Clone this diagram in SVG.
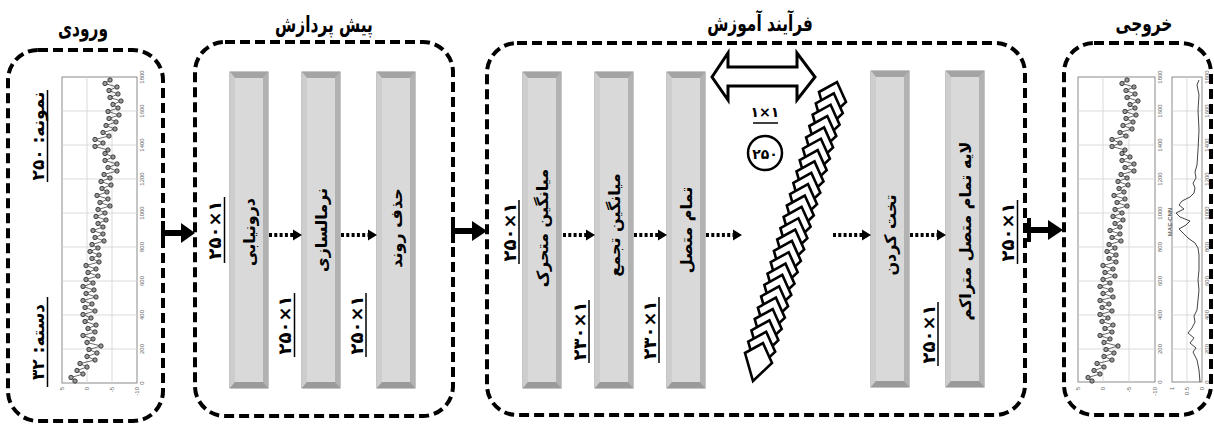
<svg xmlns="http://www.w3.org/2000/svg" xmlns:xlink="http://www.w3.org/1999/xlink" width="1214" height="425" viewBox="0 0 1214 425">
<style>
.panel{fill:none;stroke:#000;stroke-width:4;stroke-dasharray:10 5}
.t{font-family:"DejaVu Sans",sans-serif;font-weight:bold;fill:#000}
.title{font-size:22px}
.bt{font-size:16px}
.dim{font-size:18px;letter-spacing:0.5px}
.lab{font-size:17px}
.ul{stroke:#000;stroke-width:1.5}
.dot{stroke:#000;stroke-width:4;stroke-dasharray:3 2.3;fill:none}
.thick{stroke:#000;stroke-width:6;fill:none}
.grid{stroke:#d2d2d2;stroke-width:0.8}
.frame{fill:#fff;stroke:#8a8a8a;stroke-width:1}
.tick{font-family:"Liberation Sans",sans-serif;font-size:6px;fill:#666}
.series{fill:none;stroke:#444;stroke-width:0.8;marker-start:url(#pt);marker-mid:url(#pt);marker-end:url(#pt)}
</style>
<defs>
<marker id="pt" markerUnits="userSpaceOnUse" markerWidth="8" markerHeight="8" refX="4" refY="4" overflow="visible">
<circle cx="4" cy="4" r="2.2" fill="#999" stroke="#222" stroke-width="0.8"/>
</marker>
<g id="bar">
<rect x="0" y="0" width="38" height="316" fill="#bdbdbd" stroke="#8c8c8c" stroke-width="1"/>
<polygon points="0,0 38,0 33,6 5,6" fill="#a4a4a4"/>
<polygon points="0,0 5,6 5,310 0,316" fill="#cdcdcd"/>
<polygon points="38,0 38,316 33,310 33,6" fill="#b2b2b2"/>
<polygon points="0,316 38,316 33,310 5,310" fill="#9a9a9a"/>
<rect x="5" y="6" width="28" height="304" fill="#d9d9d9"/>
</g>
<polygon id="sq" points="-13,-7 5,-17 14,3 -5,21" fill="#fff" stroke="#000" stroke-width="2.6" stroke-linejoin="miter"/>
<polyline id="series" class="series" points="75,381 71,377.5 83,374 77,370.5 87,367 80,363.5 95,360 87,356.5 97,353 89,349.5 101,346 87,342.5 93,339 83,335.5 95,332 88,328.5 96,325 85,321.5 91,318 83,314.5 95,311 85,307.5 92,304 83,300.5 96,297 86,293.5 94,290 83,286.5 93,283 86,279.5 98,276 88,272.5 96,269 86,265.5 99,262 92,258.5 99,255 90,251.5 98,248 92,244.5 104,241 95,237.5 103,234 93,230.5 103,227 98,223.5 106,220 96,216.5 105,213 98,209.5 110,206 100,202.5 108,199 97,195.5 107,192 102,188.5 111,185 101,181.5 110,178 104,174.5 117,171 108,167.5 117,164 105,160.5 113,157 105,153.5 108,150 95,146.5 103,143 95,139.5 109,136 103,132.5 115,129 106,125.5 116,122 109,118.5 119,115 108,111.5 118,108 113,104.5 121,101 110,97.5 118,94 109,90.5 117,87 105,83.5 110,80"/>
</defs>

<!-- Panels -->
<g id="panel-input">
<rect class="panel" x="8" y="50" width="155" height="371" rx="30"/>
<text class="t title" transform="translate(83,36) scale(0.7,1)" text-anchor="middle">ورودی</text>
<g id="chart-input">
<rect class="frame" x="62" y="77" width="75" height="306"/>
<g class="grid">
<line x1="87" y1="77" x2="87" y2="383"/><line x1="112" y1="77" x2="112" y2="383"/>
<line x1="62" y1="349" x2="137" y2="349"/><line x1="62" y1="315" x2="137" y2="315"/><line x1="62" y1="281" x2="137" y2="281"/><line x1="62" y1="247" x2="137" y2="247"/><line x1="62" y1="213" x2="137" y2="213"/><line x1="62" y1="179" x2="137" y2="179"/><line x1="62" y1="145" x2="137" y2="145"/><line x1="62" y1="111" x2="137" y2="111"/>
</g>
<use xlink:href="#series"/>
<g class="tick" text-anchor="middle">
<text transform="translate(144,383) rotate(-90)">0</text>
<text transform="translate(144,349) rotate(-90)">200</text>
<text transform="translate(144,315) rotate(-90)">400</text>
<text transform="translate(144,281) rotate(-90)">600</text>
<text transform="translate(144,247) rotate(-90)">800</text>
<text transform="translate(144,213) rotate(-90)">1000</text>
<text transform="translate(144,179) rotate(-90)">1200</text>
<text transform="translate(144,145) rotate(-90)">1400</text>
<text transform="translate(144,111) rotate(-90)">1600</text>
<text transform="translate(144,77) rotate(-90)">1800</text>
</g>
<g class="tick" text-anchor="end">
<text transform="translate(64,387) rotate(-90)">5</text>
<text transform="translate(89,387) rotate(-90)">0</text>
<text transform="translate(114,387) rotate(-90)">-5</text>
<text transform="translate(139,387) rotate(-90)">-10</text>
</g>
</g>
<text class="t lab" transform="translate(44,136) rotate(-90)" text-anchor="middle">نمونه: ۲۵۰</text>
<line class="ul" x1="47.5" y1="90" x2="47.5" y2="182"/>
<text class="t lab" transform="translate(44,342) rotate(-90)" text-anchor="middle">دسته: ۳۲</text>
<line class="ul" x1="47.5" y1="297" x2="47.5" y2="387"/>
</g>

<g id="panel-preprocess">
<rect class="panel" x="195" y="42" width="258" height="374" rx="30"/>
<text class="t title" transform="translate(324,32) scale(0.7,1)" text-anchor="middle">پیش پردازش</text>
</g>
<g id="box-interp"><use xlink:href="#bar" x="230" y="72"/><text class="t bt" transform="translate(249,232) rotate(-90)" y="6" text-anchor="middle">درونیابی</text></g>
<g id="box-normalize"><use xlink:href="#bar" x="302" y="72"/><text class="t bt" transform="translate(321,230) rotate(-90)" y="6" text-anchor="middle">نرمالسازی</text></g>
<g id="box-detrend"><use xlink:href="#bar" x="377" y="72"/><text class="t bt" transform="translate(396,228) rotate(-90)" y="6" text-anchor="middle">حذف روند</text></g>

<g id="panel-training">
<rect class="panel" x="487" y="43" width="538" height="372" rx="30"/>
<text class="t title" transform="translate(760,31) scale(0.7,1)" text-anchor="middle">فرآیند آموزش</text>
</g>
<g id="box-movavg"><use xlink:href="#bar" x="523" y="72"/><text class="t bt" transform="translate(542,228) rotate(-90)" y="6" text-anchor="middle">میانگین متحرک</text></g>
<g id="box-pool"><use xlink:href="#bar" x="595" y="72"/><text class="t bt" transform="translate(614,225) rotate(-90)" y="6" text-anchor="middle">میانگین تجمع</text></g>
<g id="box-fc"><use xlink:href="#bar" x="667" y="72"/><text class="t bt" transform="translate(686,230) rotate(-90)" y="6" text-anchor="middle">تمام متصل</text></g>
<g id="box-flatten"><use xlink:href="#bar" x="871" y="71"/><text class="t bt" transform="translate(890,235) rotate(-90)" y="6" text-anchor="middle">تخت کردن</text></g>
<g id="box-dense"><use xlink:href="#bar" x="946" y="71"/><text class="t bt" transform="translate(965,231) rotate(-90)" y="6" text-anchor="middle">لایه تمام متصل متراکم</text></g>

<g id="feature-stack">
<use xlink:href="#sq" x="832.0" y="99.0"/>
<use xlink:href="#sq" x="828.8" y="110.3"/>
<use xlink:href="#sq" x="825.6" y="121.7"/>
<use xlink:href="#sq" x="822.3" y="133.0"/>
<use xlink:href="#sq" x="819.1" y="144.4"/>
<use xlink:href="#sq" x="815.9" y="155.7"/>
<use xlink:href="#sq" x="812.7" y="167.1"/>
<use xlink:href="#sq" x="809.5" y="178.4"/>
<use xlink:href="#sq" x="806.3" y="189.8"/>
<use xlink:href="#sq" x="803.0" y="201.1"/>
<use xlink:href="#sq" x="799.8" y="212.5"/>
<use xlink:href="#sq" x="796.6" y="223.8"/>
<use xlink:href="#sq" x="793.4" y="235.2"/>
<use xlink:href="#sq" x="790.2" y="246.5"/>
<use xlink:href="#sq" x="786.9" y="257.9"/>
<use xlink:href="#sq" x="783.7" y="269.2"/>
<use xlink:href="#sq" x="780.5" y="280.6"/>
<use xlink:href="#sq" x="777.3" y="291.9"/>
<use xlink:href="#sq" x="774.1" y="303.3"/>
<use xlink:href="#sq" x="770.9" y="314.6"/>
<use xlink:href="#sq" x="767.7" y="326.0"/>
<use xlink:href="#sq" x="764.4" y="337.3"/>
<use xlink:href="#sq" x="761.2" y="348.7"/>
<use xlink:href="#sq" x="758.0" y="360.0"/>
</g>

<g id="kernel-info">
<polygon points="712,77 728,53 728,67 797,67 797,53 815,77 797,100 797,86 728,86 728,100" fill="#fff" stroke="#000" stroke-width="3"/>
<text class="t" x="765" y="117" font-size="14" text-anchor="middle">۱×۱</text>
<line class="ul" x1="753" y1="123" x2="778" y2="123"/>
<circle cx="765" cy="153" r="17" fill="#fff" stroke="#000" stroke-width="2.5"/>
<text class="t" x="765" y="159" font-size="14" text-anchor="middle">۲۵۰</text>
</g>

<g id="panel-output">
<rect class="panel" x="1064" y="43" width="147" height="372" rx="30"/>
<text class="t title" transform="translate(1144,31) scale(0.7,1)" text-anchor="middle">خروجی</text>
<g id="chart-output">
<rect class="frame" x="1078" y="77" width="77" height="305"/>
<g class="grid">
<line x1="1103" y1="77" x2="1103" y2="382"/><line x1="1129" y1="77" x2="1129" y2="382"/>
<line x1="1078" y1="349" x2="1155" y2="349"/><line x1="1078" y1="315" x2="1155" y2="315"/><line x1="1078" y1="281" x2="1155" y2="281"/><line x1="1078" y1="247" x2="1155" y2="247"/><line x1="1078" y1="213" x2="1155" y2="213"/><line x1="1078" y1="179" x2="1155" y2="179"/><line x1="1078" y1="145" x2="1155" y2="145"/><line x1="1078" y1="111" x2="1155" y2="111"/>
</g>
<use xlink:href="#series" x="1017"/>
<g class="tick" text-anchor="middle">
<text transform="translate(1162,382) rotate(-90)">0</text>
<text transform="translate(1162,349) rotate(-90)">200</text>
<text transform="translate(1162,315) rotate(-90)">400</text>
<text transform="translate(1162,281) rotate(-90)">600</text>
<text transform="translate(1162,247) rotate(-90)">800</text>
<text transform="translate(1162,213) rotate(-90)">1000</text>
<text transform="translate(1162,179) rotate(-90)">1200</text>
<text transform="translate(1162,145) rotate(-90)">1400</text>
<text transform="translate(1162,111) rotate(-90)">1600</text>
<text transform="translate(1162,77) rotate(-90)">1800</text>
</g>
<g class="tick" text-anchor="end">
<text transform="translate(1080,387) rotate(-90)">5</text>
<text transform="translate(1105,387) rotate(-90)">0</text>
<text transform="translate(1131,387) rotate(-90)">-5</text>
<text transform="translate(1157,387) rotate(-90)">-10</text>
</g>
</g>
<g id="chart-error">
<rect class="frame" x="1172" y="77" width="30" height="305"/>
<g class="grid">
<line x1="1187" y1="77" x2="1187" y2="382"/>
<line x1="1172" y1="349" x2="1202" y2="349"/><line x1="1172" y1="315" x2="1202" y2="315"/><line x1="1172" y1="281" x2="1202" y2="281"/><line x1="1172" y1="247" x2="1202" y2="247"/><line x1="1172" y1="213" x2="1202" y2="213"/><line x1="1172" y1="179" x2="1202" y2="179"/><line x1="1172" y1="145" x2="1202" y2="145"/><line x1="1172" y1="111" x2="1202" y2="111"/>
</g>
<polyline fill="none" stroke="#444" stroke-width="1" points="1200,382 1199,370 1197,360 1193,352 1196,348 1190,343 1194,338 1188,333 1192,328 1195,322 1194,316 1197,310 1198,300 1199,290 1198,280 1199,270 1199,255 1198,248 1195,243 1188,238 1183,233 1179,229 1186,225 1190,221 1180,217 1176,213 1184,209 1179,205 1182,201 1190,197 1194,193 1195,188 1193,183 1196,178 1195,172 1197,165 1198,150 1199,130 1198,110 1199,95 1197,85 1199,80"/>
<text class="tick" font-weight="bold" fill="#333" transform="translate(1172,222) rotate(-90)" text-anchor="middle">MAE-CNN</text>
<g class="tick" text-anchor="middle">
<text transform="translate(1209,382) rotate(-90)">0</text>
<text transform="translate(1209,349) rotate(-90)">200</text>
<text transform="translate(1209,315) rotate(-90)">400</text>
<text transform="translate(1209,281) rotate(-90)">600</text>
<text transform="translate(1209,247) rotate(-90)">800</text>
<text transform="translate(1209,213) rotate(-90)">1000</text>
<text transform="translate(1209,179) rotate(-90)">1200</text>
<text transform="translate(1209,145) rotate(-90)">1400</text>
<text transform="translate(1209,111) rotate(-90)">1600</text>
<text transform="translate(1209,77) rotate(-90)">1800</text>
</g>
<g class="tick" text-anchor="end">
<text transform="translate(1174,387) rotate(-90)">1</text>
<text transform="translate(1189,387) rotate(-90)">0.5</text>
<text transform="translate(1204,387) rotate(-90)">0</text>
</g>
</g>
</g>

<!-- Connectors -->
<g id="connectors">
<g id="main-arrows" fill="#000">
<rect x="161" y="221" width="4" height="24"/>
<line class="thick" x1="163" y1="233" x2="183" y2="233"/>
<polygon points="181,223 195,233 181,243"/>
<rect x="451" y="219" width="4" height="24"/>
<line class="thick" x1="453" y1="231" x2="474" y2="231"/>
<polygon points="472,221 487,231 472,241"/>
<rect x="1027" y="218" width="4" height="24"/>
<line class="thick" x1="1029" y1="230" x2="1050" y2="230"/>
<polygon points="1048,220 1063,230 1048,240"/>
</g>
<g id="dotted-arrows" fill="#000">
<line class="dot" x1="269" y1="235" x2="293" y2="235"/><polygon points="302,235 293,229.5 293,240.5"/>
<line class="dot" x1="341" y1="235" x2="368" y2="235"/><polygon points="377,235 368,229.5 368,240.5"/>
<line class="dot" x1="563" y1="235" x2="586" y2="235"/><polygon points="595,235 586,229.5 586,240.5"/>
<line class="dot" x1="634" y1="235" x2="658" y2="235"/><polygon points="667,235 658,229.5 658,240.5"/>
<line class="dot" x1="706" y1="235" x2="733" y2="235"/><polygon points="742,235 733,229.5 733,240.5"/>
<line class="dot" x1="833" y1="235" x2="862" y2="235"/><polygon points="871,235 862,229.5 862,240.5"/>
<line class="dot" x1="910" y1="235" x2="937" y2="235"/><polygon points="946,235 937,229.5 937,240.5"/>
</g>
<g id="dim-labels">
<text class="t dim" transform="translate(221,230) rotate(-90)" text-anchor="middle">۲۵۰×۱</text><line class="ul" x1="224.5" y1="197" x2="224.5" y2="263"/>
<text class="t dim" transform="translate(291,325) rotate(-90)" text-anchor="middle">۲۵۰×۱</text><line class="ul" x1="294.5" y1="293" x2="294.5" y2="357"/>
<text class="t dim" transform="translate(362.5,325) rotate(-90)" text-anchor="middle">۲۵۰×۱</text><line class="ul" x1="366" y1="293" x2="366" y2="357"/>
<text class="t dim" transform="translate(516,232) rotate(-90)" text-anchor="middle">۲۵۰×۱</text><line class="ul" x1="519" y1="200" x2="519" y2="264"/>
<text class="t dim" transform="translate(586,331) rotate(-90)" text-anchor="middle">۲۳۰×۱</text><line class="ul" x1="589" y1="300" x2="589" y2="363"/>
<text class="t dim" transform="translate(656,330) rotate(-90)" text-anchor="middle">۲۳۰×۱</text><line class="ul" x1="659" y1="297" x2="659" y2="363"/>
<text class="t dim" transform="translate(935,334) rotate(-90)" text-anchor="middle">۲۵۰×۱</text><line class="ul" x1="938" y1="302" x2="938" y2="366"/>
<text class="t dim" transform="translate(1014,232) rotate(-90)" text-anchor="middle">۲۵۰×۱</text><line class="ul" x1="1017.5" y1="200" x2="1017.5" y2="264"/>
</g>
</g>
</svg>
